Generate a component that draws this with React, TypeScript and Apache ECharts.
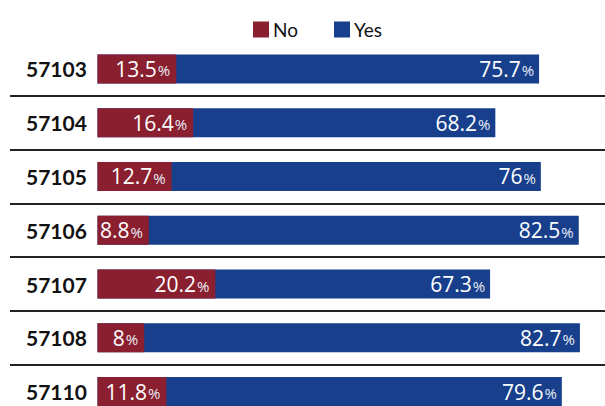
import React, { useEffect, useRef } from "react";
import * as echarts from "echarts";

const categories = ["57103", "57104", "57105", "57106", "57107", "57108", "57110"];
const noValues = [13.5, 16.4, 12.7, 8.8, 20.2, 8, 11.8];
const yesValues = [75.7, 68.2, 76, 82.5, 67.3, 82.7, 79.6];

const NO_COLOR = "#8A1F2F";
const YES_COLOR = "#173F8C";

const labelRich = {
  v: { color: "#ffffff", fontSize: 21, fontFamily: "Open Sans" },
  p: { color: "#e8ecf5", fontSize: 15, fontFamily: "Open Sans", padding: [3, 0, 0, 1] },
};

export default function App() {
  const ref = useRef<HTMLDivElement>(null);
  useEffect(() => {
    document.body.style.margin = "0";
    const chart = echarts.init(ref.current!, null, { renderer: "svg" });
    chart.setOption({
      animation: false,
      backgroundColor: "#ffffff",
      legend: {
        data: ["No", "Yes"],
        left: 248,
        top: 15,
        itemWidth: 16,
        itemHeight: 16,
        itemGap: 36,
        icon: "rect",
        textStyle: { fontSize: 19, fontFamily: "Lato", color: "#111", padding: [0, 0, 0, -1] },
      },
      grid: {
        left: 10,
        right: 0,
        top: 42,
        bottom: -12.5,
        containLabel: false,
        outerBoundsMode: "none",
      },
      xAxis: {
        type: "value",
        min: -15,
        max: 87,
        show: false,
        splitLine: { show: false },
      },
      yAxis: {
        type: "category",
        data: categories,
        inverse: true,
        axisLine: { show: false, onZero: false },
        axisTick: { show: false },
        splitLine: {
          show: true,
          interval: (idx: number) => idx !== 0,
          lineStyle: { color: "#222", width: 2 },
        },
        axisLabel: {
          inside: true,
          fontSize: 21,
          fontWeight: "bold",
          fontFamily: "Lato",
          color: "#111",
          margin: 16,
          align: "left",
        },
      },
      series: [
        {
          name: "Yes",
          type: "bar",
          data: yesValues,
          barWidth: 29,
          itemStyle: { color: YES_COLOR },
          label: {
            show: true,
            position: "insideRight",
            distance: 5,
            formatter: (p: any) => `{v|${p.value}}{p|%}`,
            rich: labelRich,
          },
          z: 2,
        },
        {
          name: "No",
          type: "bar",
          data: noValues,
          barWidth: 29,
          barGap: "-100%",
          itemStyle: { color: NO_COLOR },
          label: {
            show: true,
            position: "insideRight",
            distance: 6,
            formatter: (p: any) => `{v|${p.value}}{p|%}`,
            rich: labelRich,
          },
          z: 3,
        },
      ],
    });
    return () => chart.dispose();
  }, []);
  return <div ref={ref} style={{ width: 605, height: 406 }} />;
}
